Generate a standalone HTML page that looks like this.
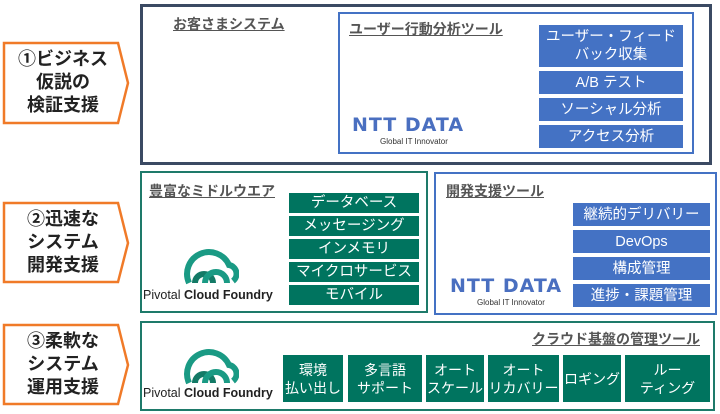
<!DOCTYPE html>
<html><head><meta charset="utf-8"><style>
body{margin:0;width:720px;height:414px;background:#fff;position:relative;overflow:hidden;font-family:"Liberation Sans","Noto Sans CJK JP",sans-serif}
.a{position:absolute;box-sizing:border-box}
.t{font-weight:bold;text-decoration:underline;color:#555;font-size:14px;white-space:nowrap}
.b{background:#4472c4;color:#fff;font-size:14.5px;display:flex;align-items:center;justify-content:center;text-align:center;line-height:18px}
.g{background:#00745f;color:#fff;font-size:14.5px;display:flex;align-items:center;justify-content:center;text-align:center;line-height:18px;white-space:nowrap}
.s{font-size:14px}
.lbl{font-weight:bold;font-size:18px;line-height:23px;text-align:center;color:#222}
.ntt{color:#4a6fc0;font-weight:bold;font-size:19px;letter-spacing:1px;font-family:"DejaVu Sans",sans-serif}
.gi{font-size:8px;color:#333}
</style></head><body>
<svg class="a" style="left:0;top:0" width="140" height="414">
<polygon points="4,43 118,43 128,83 118,123 4,123" fill="#fff" stroke="#f07a28" stroke-width="2.5"/>
<polygon points="4,203 118,203 128,243 118,282 4,282" fill="#fff" stroke="#f07a28" stroke-width="2.5"/>
<polygon points="4,325 118,325 128,365 118,404 4,404" fill="#fff" stroke="#f07a28" stroke-width="2.5"/>
</svg>
<div class="a lbl" style="left:4px;top:48px;width:118px">①ビジネス<br>仮説の<br>検証支援</div>
<div class="a lbl" style="left:4px;top:208px;width:118px">②迅速な<br>システム<br>開発支援</div>
<div class="a lbl" style="left:4px;top:330px;width:118px">③柔軟な<br>システム<br>運用支援</div>

<div class="a" style="left:140px;top:4px;width:572px;height:161px;border:3px solid #3b4a63"></div>
<div class="a t" style="left:173px;top:14px">お客さまシステム</div>
<div class="a" style="left:338px;top:12px;width:356px;height:142px;border:2px solid #4472c4"></div>
<div class="a t" style="left:349px;top:19px">ユーザー行動分析ツール</div>
<div class="a b" style="left:539px;top:25px;width:144px;height:42px">ユーザー・フィード<br>バック収集</div>
<div class="a b" style="left:539px;top:71px;width:144px;height:23px">A/B テスト</div>
<div class="a b" style="left:539px;top:98px;width:144px;height:23px">ソーシャル分析</div>
<div class="a b" style="left:539px;top:125px;width:144px;height:23px">アクセス分析</div>
<div class="a ntt" style="left:352px;top:114px">NTT DATA</div>
<div class="a gi" style="left:380px;top:137px">Global IT Innovator</div>

<div class="a" style="left:140px;top:171px;width:288px;height:142px;border:2.5px solid #1e7a6a"></div>
<div class="a t" style="left:149px;top:181px">豊富なミドルウエア</div>
<div class="a g" style="left:289px;top:193px;width:130px;height:20px">データベース</div>
<div class="a g" style="left:289px;top:216px;width:130px;height:20px">メッセージング</div>
<div class="a g" style="left:289px;top:239px;width:130px;height:20px">インメモリ</div>
<div class="a g" style="left:289px;top:262px;width:130px;height:20px">マイクロサービス</div>
<div class="a g" style="left:289px;top:285px;width:130px;height:20px">モバイル</div>
<svg class="a" style="left:183px;top:243px" width="56" height="42" viewBox="0 0 56 42">
<path d="M6,40 A20,20 0 0 1 46,22 A9,9 0 0 1 50,38" fill="none" stroke="#1a9a84" stroke-width="6"/>
<path d="M12,40 A9,9 0 0 1 30,40" fill="none" stroke="#137a66" stroke-width="6"/>
<path d="M22,40 A11,11 0 0 1 44,40" fill="none" stroke="#1a9a84" stroke-width="6"/>
</svg>
<div class="a" style="left:143px;top:288px;font-size:12.5px;color:#222;white-space:nowrap">Pivotal <b>Cloud Foundry</b></div>

<div class="a" style="left:434px;top:172px;width:283px;height:143px;border:2px solid #4472c4"></div>
<div class="a t" style="left:446px;top:181px">開発支援ツール</div>
<div class="a b" style="left:573px;top:203px;width:137px;height:23px">継続的デリバリー</div>
<div class="a b" style="left:573px;top:230px;width:137px;height:23px">DevOps</div>
<div class="a b" style="left:573px;top:257px;width:137px;height:23px">構成管理</div>
<div class="a b" style="left:573px;top:284px;width:137px;height:23px">進捗・課題管理</div>
<div class="a ntt" style="left:450px;top:275px">NTT DATA</div>
<div class="a gi" style="left:477px;top:298px">Global IT Innovator</div>

<div class="a" style="left:140px;top:321px;width:575px;height:90px;border:2.5px solid #1e7a6a"></div>
<div class="a t" style="left:532px;top:329px">クラウド基盤の管理ツール</div>
<svg class="a" style="left:183px;top:343px" width="56" height="42" viewBox="0 0 56 42">
<path d="M6,40 A20,20 0 0 1 46,22 A9,9 0 0 1 50,38" fill="none" stroke="#1a9a84" stroke-width="6"/>
<path d="M12,40 A9,9 0 0 1 30,40" fill="none" stroke="#137a66" stroke-width="6"/>
<path d="M22,40 A11,11 0 0 1 44,40" fill="none" stroke="#1a9a84" stroke-width="6"/>
</svg>
<div class="a" style="left:143px;top:386px;font-size:12.5px;color:#222;white-space:nowrap">Pivotal <b>Cloud Foundry</b></div>
<div class="a g s" style="left:283px;top:355px;width:60px;height:47px">環境<br>払い出し</div>
<div class="a g s" style="left:348px;top:355px;width:74px;height:47px">多言語<br>サポート</div>
<div class="a g s" style="left:426px;top:355px;width:58px;height:47px">オート<br>スケール</div>
<div class="a g s" style="left:488px;top:355px;width:71px;height:47px">オート<br>リカバリー</div>
<div class="a g s" style="left:563px;top:355px;width:58px;height:47px">ロギング</div>
<div class="a g s" style="left:625px;top:355px;width:85px;height:47px">ルー<br>ティング</div>
</body></html>
